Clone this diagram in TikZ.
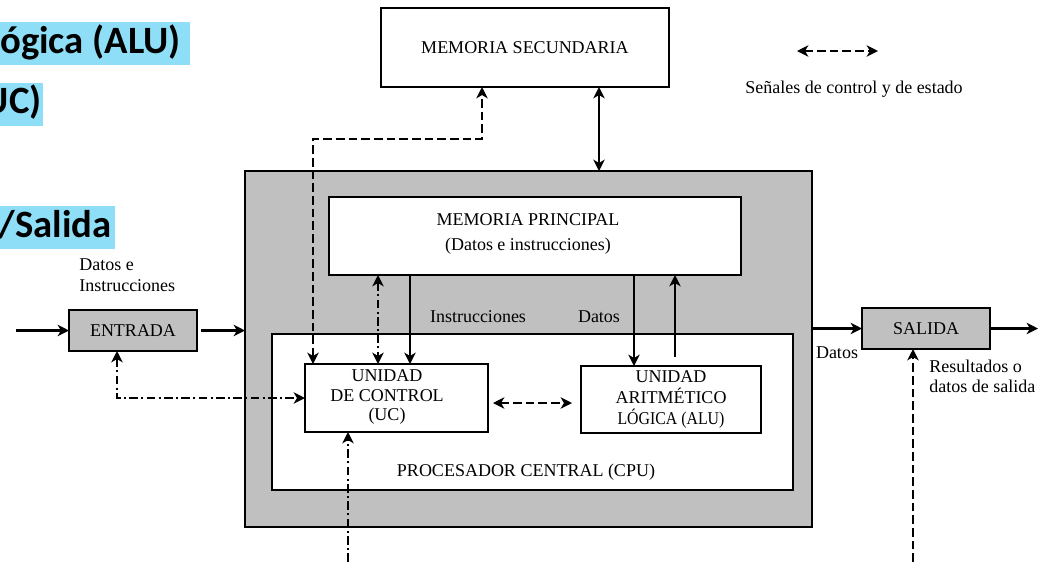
\documentclass[tikz,border=0pt]{standalone}
\usepackage{fontspec}
\setmainfont{Liberation Serif}
\newfontfamily\calib{Carlito}
\usetikzlibrary{arrows.meta,calc}
\definecolor{hl}{RGB}{142,222,248}
\definecolor{grayfill}{RGB}{192,192,192}
\begin{document}
\begin{tikzpicture}[x=0.75pt,y=-0.75pt,
  >={Stealth[length=8.5pt,width=8.5pt,inset=2.5pt]},
  txt/.style={font=\fontsize{13.5}{15}\selectfont, inner sep=0pt, align=center},
  box/.style={draw, line width=1.4pt, inner sep=0pt, outer sep=0pt, fill=white,
    font=\fontsize{13.5}{15}\selectfont, align=center},
  conn/.style={line width=1.6pt},
  dsh/.style={conn, dash pattern=on 6.5pt off 3pt},
  dd/.style={conn, dash pattern=on 6.5pt off 2.5pt on 1.5pt off 2.5pt},
  big/.style={font=\calib\bfseries\fontsize{29}{30}\selectfont, inner sep=0pt},
]
\useasboundingbox (0,0) rectangle (1040,562);

% highlighted slide text (cropped)
\fill[hl] (0,22) rectangle (190,64.5);
\node[big, anchor=base west] (t1) at (0,53) {ógica (ALU)};
\fill[hl] (0,83) rectangle (43,126);
\node[big, anchor=base east] (t2) at (42,113) {UC)};
\fill[hl] (0,206) rectangle (115,248.5);
\node[big, anchor=base east] (t3) at (112,237) {/Salida};

% boxes
\node[box, minimum width=216pt, minimum height=59.25pt] (ms) at (525,47.5) {MEMORIA SECUNDARIA};
\node[box, fill=grayfill, minimum width=425.25pt, minimum height=267pt] (comp) at (528.5,349) {};
\node[box, minimum width=309pt, minimum height=58.5pt] (mp) at (535,236) {};
\node[txt, font=\fontsize{13.5}{18.75}\selectfont] (mptxt) at (528,233.5) {MEMORIA PRINCIPAL\\(Datos e instrucciones)};
\node[box, minimum width=390.75pt, minimum height=117pt] (cpu) at (532.5,412) {};
\node[txt] (cputxt) at (526,472) {PROCESADOR CENTRAL (CPU)};
\node[box, minimum width=137.25pt, minimum height=51pt] (uc) at (396.5,398) {};
\node[txt, font=\fontsize{13.5}{14.3}\selectfont] (uctxt) at (387,397) {UNIDAD\\DE CONTROL\\(UC)};
\node[box, minimum width=135pt, minimum height=50.25pt, font=\fontsize{13.5}{16}\selectfont] (alu) at (671,399.5)
  {UNIDAD\\ARITMÉTICO\\\scalebox{0.88}[1]{LÓGICA (ALU)}};
\node[box, fill=grayfill, minimum width=96pt, minimum height=30.75pt] (ent) at (133,330.5) {ENTRADA};
\node[box, fill=grayfill, minimum width=96pt, minimum height=30.75pt] (sal) at (926,328.5) {SALIDA};

% free ends
\coordinate (in) at (16,330.5);
\coordinate (out) at (1038,328.5);
\coordinate (b1) at (348,562);
\coordinate (b2) at (913,562);
\coordinate (l1) at (797,51);
\coordinate (l2) at (878,51);

% connectors
\draw[conn,->] (in) -- (ent.west);
\draw[conn,->,shorten <=3pt] (ent.east) -- (ent.east -| comp.west);
\draw[conn,->] (comp.east |- sal.west) -- (sal.west);
\draw[conn,->] (sal.east) -- (out);
\draw[conn,<->] (599,0 |- ms.south) -- (599,0 |- comp.north);
\draw[dsh,<->] (313,0 |- uc.north) |- (482,139) -- (482,0 |- ms.south);
\draw[dd,<->] (378,0 |- mp.south) -- (378,0 |- uc.north);
\draw[conn,->] (410,0 |- mp.south) -- (410,0 |- uc.north);
\draw[conn,->] (634,0 |- mp.south) -- (634,0 |- alu.north);
\draw[conn,->,shorten <=6.75pt] (675,0 |- alu.north) -- (675,0 |- mp.south);
\draw[dsh,<->,shorten <=3.75pt,shorten >=6.75pt] (uc.east |- 0,403) -- (alu.west |- 0,403);
\draw[dd,<->] (117,0 |- ent.south) |- (uc.west);
\draw[dd,->] (b1) -- (b1 |- uc.south);
\draw[dsh,->] (b2) -- (b2 |- sal.south);
\draw[dsh,<->] (l1) -- (l2);

% labels
\node[txt, font=\fontsize{13.5}{15.75}\selectfont, align=left, anchor=west] (lab1) at (79,275.5) {Datos e\\Instrucciones};
\node[txt] (lab2) at (478,317) {Instrucciones};
\node[txt] (lab3) at (599,317) {Datos};
\node[txt] (lab4) at (837,353) {Datos};
\node[txt, align=left, anchor=west] (lab5) at (929,376.5) {Resultados o\\datos de salida};
\node[txt] (lab6) at (854,89) {Señales de control y de estado};
\end{tikzpicture}
\end{document}
